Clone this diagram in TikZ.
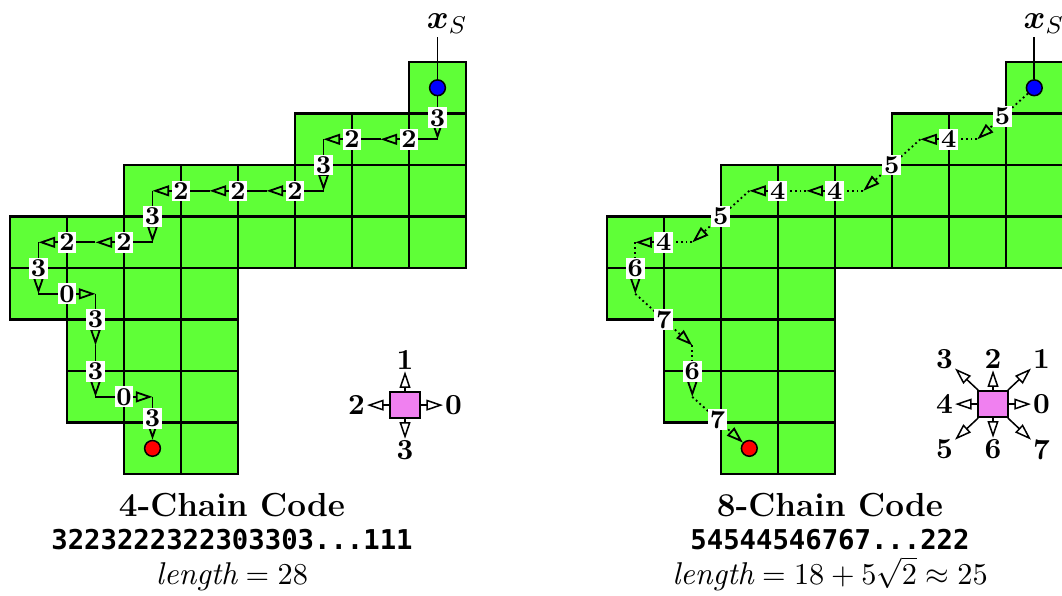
\documentclass[tikz,border=0pt]{standalone}
\usepackage{amsmath}
\usepackage{fontspec}
\newfontfamily\codefont{DejaVu Sans Mono}
\usetikzlibrary{arrows.meta}
\definecolor{cellgreen}{RGB}{95,255,55}
\definecolor{boxpink}{RGB}{240,128,240}
\tikzset{>={Triangle[open, length=5.5pt, width=3.6pt]},
  cell/.style={fill=cellgreen, draw=black, thick},
  code/.style={fill=white, inner sep=0.6pt, font=\fontsize{8.5}{9}\selectfont\bfseries},
  chain/.style={->, line width=0.6pt},
  chaindot/.style={->, line width=0.6pt, densely dotted},
  dot/.style={circle, draw=black, line width=0.5pt, inner sep=0pt, minimum size=5.2pt},
  sqbox/.style={rectangle, draw=black, line width=0.6pt, fill=boxpink, inner sep=0pt, minimum width=9.8pt, minimum height=8.6pt},
  dirlbl/.style={inner sep=0.5pt, font=\fontsize{9.6}{10}\selectfont\bfseries},
  title/.style={anchor=base, inner sep=0.5pt, font=\fontsize{11}{13}\selectfont\bfseries},
  chaintxt/.style={anchor=base, inner sep=0.5pt, font=\fontsize{9}{11}\selectfont\codefont\bfseries},
  lentxt/.style={anchor=base, inner sep=0.5pt, font=\fontsize{10.4}{12}\selectfont}
}

\begin{document}
\begin{tikzpicture}[x=18.81pt, y=17pt]
\useasboundingbox (-0.1754,-2.3495) rectangle (18.456,9.204);
\clip (-0.1754,-2.3495) rectangle (18.456,9.204);

% 4-chain code
\foreach \row/\a/\b in {7/7/7,6/5/7,5/2/7,4/0/7,3/0/3,2/1/3,1/1/3,0/2/3}
  \foreach \col in {\a,...,\b}
    \draw[cell] (\col,\row) rectangle ++(1,1);
\foreach \n/\col/\row in {1/7/6,2/6/6,3/5/6,4/5/5,5/4/5,6/3/5,7/2/5,8/2/4,9/1/4,10/0/4,11/0/3,12/1/3,13/1/2,14/1/1,15/2/1}
  \coordinate (L\n) at (\col+.5,\row+.5);
\node[dot, fill=blue] (L0) at (7.5,7.5) {};
\node[dot, fill=red] (L16) at (2.5,0.5) {};
\foreach \p/\n/\d in {0/1/3,1/2/2,2/3/2,3/4/3,4/5/2,5/6/2,6/7/2,7/8/3,8/9/2,9/10/2,10/11/3,11/12/0,12/13/3,13/14/3,14/15/0,15/16/3}
  \draw[chain] (L\p) -- node[code] (cL\n) {\d} (L\n);
\coordinate (topL) at (7.5,8.485);
\draw[line width=0.6pt] (L0) -- (topL);
\node[anchor=south west, inner sep=1pt, xshift=-4.7pt, font=\fontsize{11}{13}\selectfont] (xsL) at (topL) {$\boldsymbol{x}_S$};

\node[sqbox] (dirL) at (6.93,1.34) {};
\foreach \d/\dx/\dy in {0/16/0,1/0/15,2/-16/0,3/0/-15} {
  \node[dirlbl] (dL\d) at ([shift={(\dx pt,\dy pt)}]dirL) {\d};
  \draw[->, line width=0.5pt] (dirL) -- (dL\d);
}

\node[title] (titleL) at (3.895,-0.816) {4-Chain Code};
\node[chaintxt] (codeL) at (3.895,-1.46) {3223222322303303...111};
\node[lentxt] (lenL) at (3.895,-2.135) {$\mathit{length} = 28$};

% 8-chain code
\begin{scope}[shift={(10.47,0)}]
\foreach \row/\a/\b in {7/7/7,6/5/7,5/2/7,4/0/7,3/0/3,2/1/3,1/1/3,0/2/3}
  \foreach \col in {\a,...,\b}
    \draw[cell] (\col,\row) rectangle ++(1,1);
\foreach \n/\col/\row in {1/6/6,2/5/6,3/4/5,4/3/5,5/2/5,6/1/4,7/0/4,8/0/3,9/1/2,10/1/1}
  \coordinate (R\n) at (\col+.5,\row+.5);
\node[dot, fill=blue] (R0) at (7.5,7.5) {};
\node[dot, fill=red] (R11) at (2.5,0.5) {};
\foreach \p/\n/\d in {0/1/5,1/2/4,2/3/5,3/4/4,4/5/4,5/6/5,6/7/4,7/8/6,8/9/7,9/10/6,10/11/7}
  \draw[chaindot] (R\p) -- node[code] (cR\n) {\d} (R\n);
\coordinate (topR) at (7.5,8.485);
\draw[line width=0.6pt] (R0) -- (topR);
\node[anchor=south west, inner sep=1pt, xshift=-4.7pt, font=\fontsize{11}{13}\selectfont] (xsR) at (topR) {$\boldsymbol{x}_S$};

\node[sqbox] (dirR) at (6.776,1.36) {};
\foreach \d/\dx/\dy in {0/16/0,1/16/15,2/0/15,3/-16/15,4/-16/0,5/-16/-15,6/0/-15,7/16/-15} {
  \node[dirlbl] (dR\d) at ([shift={(\dx pt,\dy pt)}]dirR) {\d};
  \draw[->, line width=0.5pt] (dirR) -- (dR\d);
}

\node[title] (titleR) at (3.916,-0.816) {8-Chain Code};
\node[chaintxt] (codeR) at (3.916,-1.46) {54544546767...222};
\node[lentxt] (lenR) at (3.916,-2.135) {$\mathit{length} = 18 + 5\sqrt{2} \approx 25$};
\end{scope}
\end{tikzpicture}
\end{document}
